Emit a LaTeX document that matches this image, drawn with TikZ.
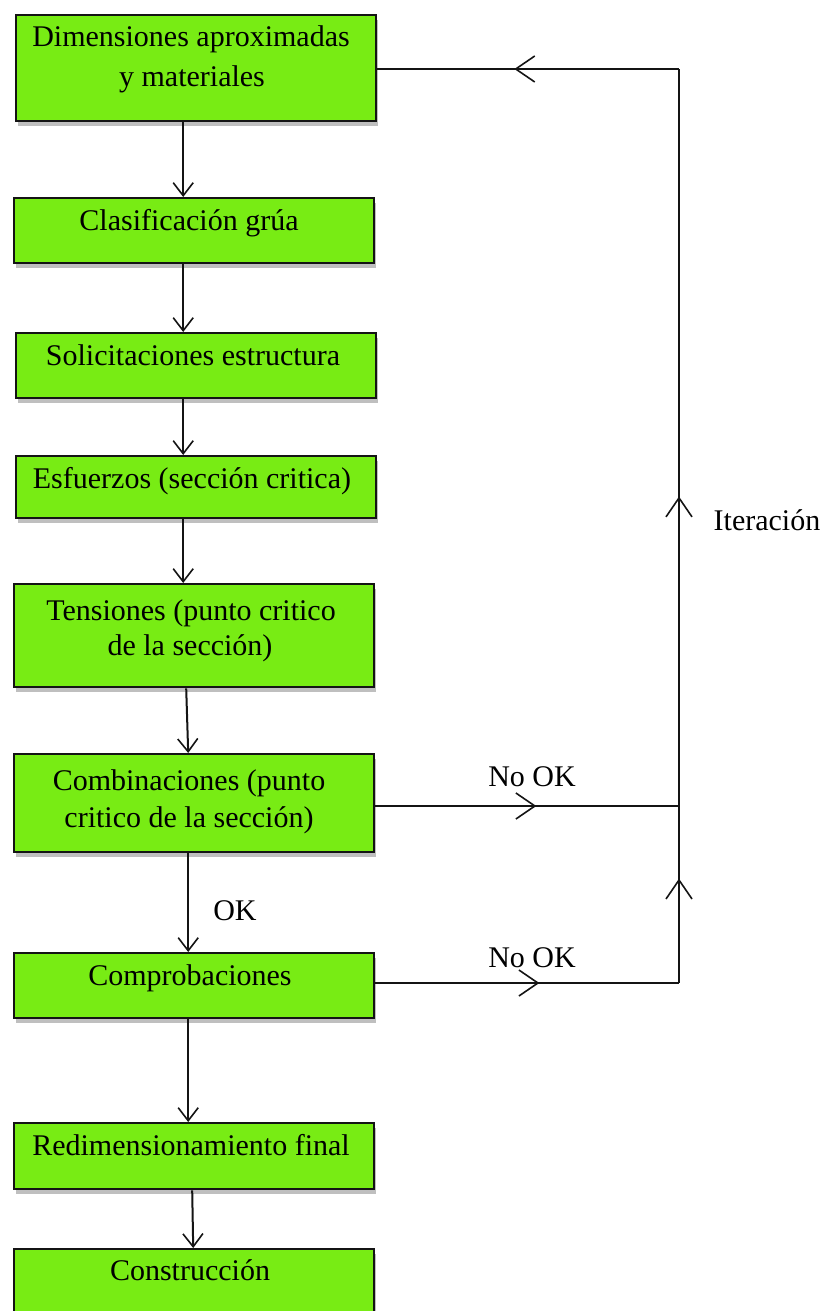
\documentclass[tikz,border=0pt]{standalone}
\usepackage{fontspec}
\setmainfont{Liberation Serif}
\usetikzlibrary{arrows.meta,decorations.markings,shadows}
\definecolor{boxgreen}{RGB}{120,236,20}
\definecolor{inkline}{RGB}{20,20,20}
\tikzset{
  box/.style={draw=inkline, line width=2.4pt, fill=boxgreen, rectangle, inner sep=0pt,
    anchor=north west, minimum width=360pt,
    drop shadow={shadow xshift=2pt, shadow yshift=-5pt, opacity=0.25, fill=black}},
  txt/.style={anchor=base, inner sep=0pt, font=\fontsize{30}{37}\selectfont},
  conn/.style={line width=2pt, draw=inkline},
  tipdown/.style={-{Straight Barb[length=13pt,width=20pt,line width=1.6pt]}},
  midarrow/.style={postaction={decorate}, decoration={markings,
    mark=at position #1 with {\arrow{Straight Barb[length=19pt,width=26pt,line width=1.6pt]}}}}
}
\begin{document}
\begin{tikzpicture}[x=1pt,y=-1pt]
\useasboundingbox (0,0) rectangle (825,1311);
\clip (0,0) rectangle (825,1311);

% boxes
\node[box, minimum height=106pt] (b1) at (15,14) {};
\node[box, minimum height=65pt] (b2) at (13,197) {};
\node[box, minimum height=65pt] (b3) at (15,332) {};
\node[box, minimum height=62pt] (b4) at (15,455) {};
\node[box, minimum height=103pt] (b5) at (13,583) {};
\node[box, minimum height=98pt] (b6) at (13,753) {};
\node[box, minimum height=65pt] (b7) at (13,952) {};
\node[box, minimum height=66pt] (b8) at (13,1122) {};
\node[box, minimum height=80pt] (b9) at (13,1248) {};

% box texts
\node[txt] (t1a) at (191,47) {Dimensiones aproximadas};
\node[txt] (t1b) at (192,87) {y materiales};
\node[txt] (t2) at (189,230) {Clasificación grúa};
\node[txt] (t3) at (193,365) {Solicitaciones estructura};
\node[txt] (t4) at (192,488) {Esfuerzos (sección critica)};
\node[txt] (t5a) at (191,620) {Tensiones (punto critico};
\node[txt] (t5b) at (190,655) {de la sección)};
\node[txt] (t6a) at (189,790) {Combinaciones (punto};
\node[txt] (t6b) at (189,827) {critico de la sección)};
\node[txt] (t7) at (190,985) {Comprobaciones};
\node[txt] (t8) at (191,1155) {Redimensionamiento final};
\node[txt] (t9) at (190,1280) {Construcción};

% down connectors
\draw[conn,tipdown] ([xshift=-13pt]b1.south) -- ([xshift=-11pt]b2.north);
\draw[conn,tipdown] ([xshift=-11pt]b2.south) -- ([xshift=-13pt]b3.north);
\draw[conn,tipdown] ([xshift=-13pt]b3.south) -- ([xshift=-13pt]b4.north);
\draw[conn,tipdown] ([xshift=-13pt]b4.south) -- ([xshift=-11pt]b5.north);
\draw[conn,tipdown] ([xshift=-8pt]b5.south) -- ([xshift=-6pt]b6.north);
\draw[conn,tipdown] ([xshift=-6pt]b6.south) -- ([xshift=-6pt]b7.north);
\draw[conn,tipdown] ([xshift=-6pt]b7.south) -- ([xshift=-6pt]b8.north);
\draw[conn,tipdown] ([xshift=-2pt]b8.south) -- ([xshift=-1pt]b9.north);

% iteration loop
\coordinate (ctop) at (679,69);
\coordinate (c6) at (679,806);
\coordinate (c7) at (679,983);
\draw[conn, midarrow=0.546] (ctop) -- (b1.east |- ctop);
\draw[conn, midarrow=0.53] (b6.east |- c6) -- (c6);
\draw[conn, midarrow=0.54] (b7.east |- c7) -- (c7);
\draw[conn, midarrow=0.59] (c7) -- (c6);
\draw[conn, midarrow=0.42] (c6) -- (ctop);

% labels
\node[txt] (lno1) at (532,786) {No OK};
\node[txt] (lno2) at (532,967) {No OK};
\node[txt] (lok) at (235,920) {OK};
\node[txt] (liter) at (767,530) {Iteración};
\end{tikzpicture}
\end{document}
